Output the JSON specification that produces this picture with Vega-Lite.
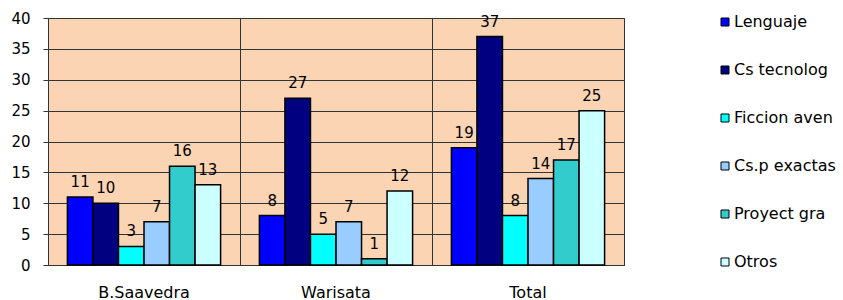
{
  "$schema": "https://vega.github.io/schema/vega-lite/v6.json",
  "width": 576,
  "height": 247,
  "autosize": "none",
  "padding": {"left": 48, "top": 18, "right": 219, "bottom": 35},
  "background": "white",
  "config": {
    "font": "DejaVu Sans",
    "view": {"fill": "#FBD4B4", "stroke": "#333333", "strokeWidth": 1}
  },
  "data": {
    "values": [
      {"grupo": "B.Saavedra", "cat": "Lenguaje", "v": 11},
      {"grupo": "B.Saavedra", "cat": "Cs tecnolog", "v": 10},
      {"grupo": "B.Saavedra", "cat": "Ficcion aven", "v": 3},
      {"grupo": "B.Saavedra", "cat": "Cs.p exactas", "v": 7},
      {"grupo": "B.Saavedra", "cat": "Proyect gra", "v": 16},
      {"grupo": "B.Saavedra", "cat": "Otros", "v": 13},
      {"grupo": "Warisata", "cat": "Lenguaje", "v": 8},
      {"grupo": "Warisata", "cat": "Cs tecnolog", "v": 27},
      {"grupo": "Warisata", "cat": "Ficcion aven", "v": 5},
      {"grupo": "Warisata", "cat": "Cs.p exactas", "v": 7},
      {"grupo": "Warisata", "cat": "Proyect gra", "v": 1},
      {"grupo": "Warisata", "cat": "Otros", "v": 12},
      {"grupo": "Total", "cat": "Lenguaje", "v": 19},
      {"grupo": "Total", "cat": "Cs tecnolog", "v": 37},
      {"grupo": "Total", "cat": "Ficcion aven", "v": 8},
      {"grupo": "Total", "cat": "Cs.p exactas", "v": 14},
      {"grupo": "Total", "cat": "Proyect gra", "v": 17},
      {"grupo": "Total", "cat": "Otros", "v": 25}
    ]
  },
  "encoding": {
    "x": {
      "field": "grupo", "type": "nominal", "sort": null,
      "scale": {"paddingInner": 0, "paddingOuter": 0},
      "axis": {
        "title": null, "labelAngle": 0, "ticks": false, "labelPadding": 19,
        "labelFontSize": 16, "labelColor": "#000000",
        "domainColor": "#333333",
        "grid": true, "gridColor": "#333333", "gridOpacity": 1, "bandPosition": 0
      }
    },
    "xOffset": {
      "field": "cat", "type": "nominal", "sort": null,
      "scale": {"paddingInner": 0, "paddingOuter": 0.76}
    },
    "y": {
      "field": "v", "type": "quantitative",
      "scale": {"domain": [0, 40], "nice": false},
      "axis": {
        "title": null, "values": [0, 5, 10, 15, 20, 25, 30, 35, 40],
        "tickSize": 5, "tickColor": "#333333", "labelPadding": 13,
        "labelFontSize": 15, "labelColor": "#000000",
        "domainColor": "#333333",
        "grid": true, "gridColor": "#333333", "gridOpacity": 1
      }
    }
  },
  "layer": [
    {
      "mark": {"type": "bar", "stroke": "#000000", "strokeWidth": 1.5},
      "encoding": {
        "fill": {
          "field": "cat", "type": "nominal", "sort": null,
          "scale": {
            "domain": ["Lenguaje", "Cs tecnolog", "Ficcion aven", "Cs.p exactas", "Proyect gra", "Otros"],
            "range": ["#0000FF", "#000080", "#00FFFF", "#99CCFF", "#33CCCC", "#CCFFFF"]
          },
          "legend": {
            "title": null, "orient": "none", "legendX": 669, "legendY": -4,
            "symbolType": "square", "symbolSize": 64,
            "symbolStrokeColor": "#000000", "symbolStrokeWidth": 1,
            "labelFontSize": 16, "labelColor": "#000000", "labelOffset": 1,
            "rowPadding": 32
          }
        }
      }
    },
    {
      "mark": {"type": "text", "baseline": "bottom", "dy": -7, "fontSize": 15, "color": "#000000"},
      "encoding": {"text": {"field": "v", "type": "quantitative"}}
    }
  ]
}
